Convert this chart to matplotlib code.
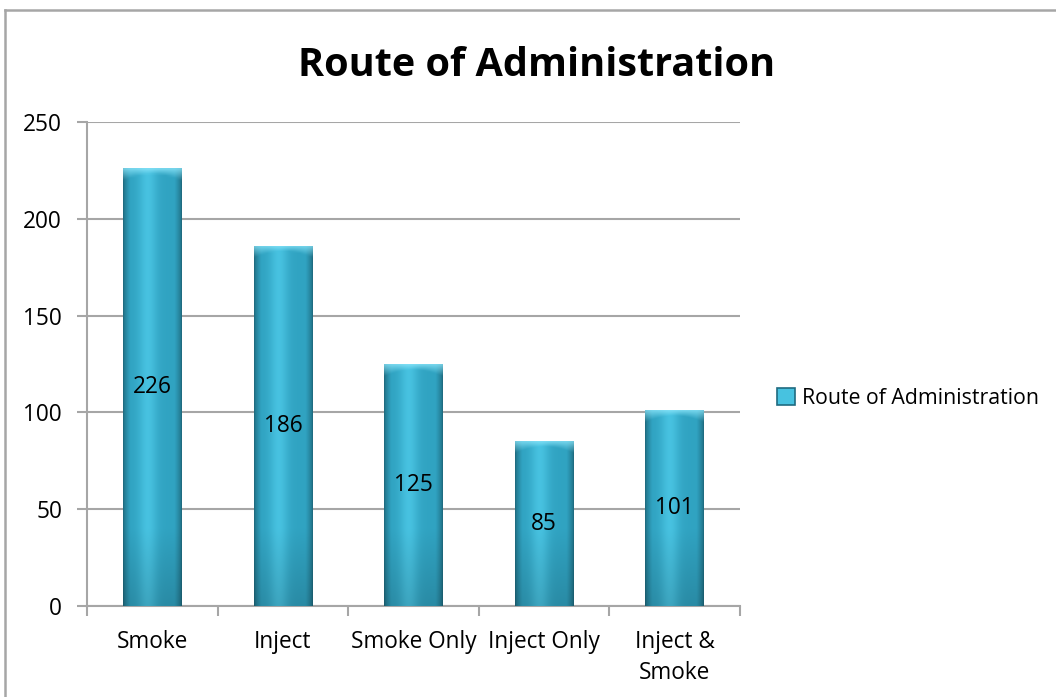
import matplotlib

matplotlib.use("Agg")

import matplotlib.pyplot as plt
import numpy as np
from matplotlib.lines import Line2D
from matplotlib.patches import Patch

plt.rcParams["font.family"] = ["Open Sans", "DejaVu Sans"]

categories = ["Smoke", "Inject", "Smoke Only", "Inject Only", "Inject &\nSmoke"]
counts = [226, 186, 125, 85, 101]
series_name = "Route of Administration"

GRID = "#a6a6a6"
EDGE = (0.12, 0.42, 0.50)
MID = (0.19, 0.64, 0.76)
HI = (0.28, 0.76, 0.88)
CAP = (0.55, 0.90, 0.98)
FS = 16.3


def bar_texture(height, cap=6.0, nx=64, ny=200):
    # horizontal shading: dark rims, bright strip a bit left of centre
    u = np.linspace(0, 1, nx)
    rim = np.clip(np.minimum(u, 1 - u) / 0.12, 0, 1) ** 0.7
    glow = np.exp(-((u - 0.42) / 0.16) ** 2)
    edge, mid, hi = (np.array(c) for c in (EDGE, MID, HI))
    row = edge + (mid - edge) * rim[:, None]
    row = row + (hi - mid) * glow[:, None]
    img = np.repeat(row[None, :, :], ny, axis=0)
    # vertical: lighter rounded cap at the top, slightly darker towards base
    y = np.linspace(height, 0, ny)
    depth = (height - y)[:, None]
    arc = cap * (1 - 0.55 * (1 - (2 * u - 1) ** 2))[None, :]
    cap_w = np.clip(1 - depth / arc, 0, 1)[:, :, None] * 0.75
    img = img * (1 - cap_w) + np.array(CAP) * cap_w
    base = (1 - 0.15 * np.clip(1 - y / 40, 0, 1))[:, None, None]
    return np.clip(img * base, 0, 1)


fig = plt.figure(figsize=(10.56, 6.97), dpi=100, facecolor="white")
ax = fig.add_axes([0.0824, 0.1306, 0.6184, 0.6944])

x = np.arange(len(categories))
bars = ax.bar(x, counts, width=0.45, color=MID, edgecolor="none", zorder=2)
for b in bars:
    x0, w, h = b.get_x(), b.get_width(), b.get_height()
    im = ax.imshow(bar_texture(h), extent=(x0, x0 + w, 0, h), aspect="auto",
                   interpolation="bilinear", zorder=3)
    im.set_clip_path(b)

for xi, v in zip(x, counts):
    ax.text(xi, v / 2, str(v), ha="center", va="center", fontsize=FS,
            color="black", zorder=4)

ax.set_xlim(-0.5, len(categories) - 0.5)
ax.set_ylim(0, 250)
ax.set_yticks(range(0, 251, 50))
ax.set_xticks(x)
ax.set_xticklabels(categories, fontsize=FS, linespacing=1.4)
ax.set_xticks(np.arange(-0.5, len(categories)), minor=True)
ax.tick_params(axis="x", which="major", length=0, pad=17)
ax.tick_params(axis="x", which="minor", length=7, width=1.5, color=GRID)
ax.tick_params(axis="y", length=7, width=1.5, color=GRID, labelsize=FS, pad=11)
ax.set_aspect("auto")
ax.grid(axis="y", color=GRID, lw=1.5, zorder=0)
ax.set_axisbelow(True)
for side in ("top", "right"):
    ax.spines[side].set_visible(False)
for side in ("left", "bottom"):
    ax.spines[side].set_color(GRID)
    ax.spines[side].set_linewidth(1.5)

fig.text(0.508, 0.906, series_name, ha="center", va="center", fontsize=28.5,
         fontweight="bold")

handle = Patch(facecolor=HI, edgecolor=EDGE, lw=1.2)
fig.legend([handle], [series_name], loc="center left",
           bbox_to_anchor=(0.718, 0.428), frameon=False, fontsize=15.3,
           handlelength=0.85, handleheight=0.85, handletextpad=0.3)

# chart frame: top and left edges
fig.add_artist(Line2D([4.5 / 1056, 1], [1 - 9.5 / 697] * 2, color="#a6a6a6", lw=1.8))
fig.add_artist(Line2D([4.5 / 1056] * 2, [0, 1 - 9.5 / 697], color="#a6a6a6", lw=1.8))

fig.savefig("out.png", dpi=100, facecolor="white")
